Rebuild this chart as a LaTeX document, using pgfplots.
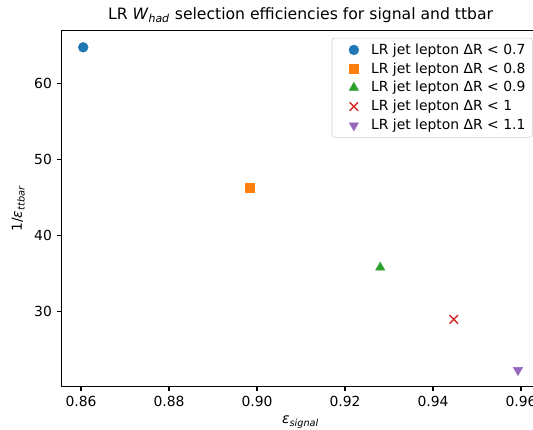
\documentclass[border=0pt]{standalone}
\usepackage{amsmath}
\usepackage{fontspec}
\setmainfont{DejaVu Sans}
\usepackage{pgfplots}
\pgfplotsset{compat=1.18}
\usetikzlibrary{calc}

\definecolor{c0}{HTML}{1F77B4}
\definecolor{c1}{HTML}{FF7F0E}
\definecolor{c2}{HTML}{2CA02C}
\definecolor{c3}{HTML}{D62728}
\definecolor{c4}{HTML}{9467BD}

\pgfplotsset{
  mplmark/.style={only marks,
    legend image code/.code={
      \path (0cm,0cm) (0.78cm,0cm);
      \draw[mark repeat=2,mark phase=2,##1] plot coordinates {(0cm,0cm) (0.43cm,0cm) (0.86cm,0cm)};
    }},
}

\begin{document}
\begin{tikzpicture}
\begin{axis}[
  name=ax,
  scale only axis,
  width=344pt, height=255.9pt,
  xmin=0.8556, xmax=0.9642,
  ymin=20.17, ymax=66.93,
  xtick={0.86,0.88,0.90,0.92,0.94,0.96},
  ytick={30,40,50,60},
  scaled ticks=false,
  tick pos=left,
  tick align=outside,
  major tick length=3.5pt,
  axis line style={line width=0.8pt},
  tick style={line width=0.8pt, black},
  x tick label style={/pgf/number format/.cd, fixed, fixed zerofill, precision=2},
  /pgf/number format/assume math mode=true,
  ticklabel style={font=\fontsize{10}{12}\selectfont},
  title={LR \textit{W}\textsubscript{\textit{had}} selection efficiencies for signal and ttbar},
  title style={font=\fontsize{11.25}{13}\selectfont, yshift=-3.5pt},
  xlabel={\textit{ε}\textsubscript{\textit{signal}}},
  ylabel={1/\textit{ε}\textsubscript{\textit{ttbar}}},
  label style={font=\fontsize{10}{12}\selectfont},
  legend cell align=left,
  legend style={at={(1,1)}, anchor=north east, xshift=-5pt, yshift=-5pt,
    draw=black!20, rounded corners=2pt, font=\fontsize{10}{12}\selectfont,
    row sep=0.5pt},
]
\addplot[mplmark, mark=*, mark size=3.5pt, color=c0] coordinates {(0.8605, 64.76)};
\addlegendentry{LR jet lepton ΔR < 0.7}
\addplot[mplmark, mark=square*, mark size=3.3pt, color=c1] coordinates {(0.8983, 46.29)};
\addlegendentry{LR jet lepton ΔR < 0.8}
\addplot[mplmark, mark=triangle*, mark size=3.8pt, color=c2] coordinates {(0.9280, 35.80)};
\addlegendentry{LR jet lepton ΔR < 0.9}
\addplot[mplmark, mark=x, mark size=4.3pt, line width=1pt, color=c3] coordinates {(0.9447, 28.97)};
\addlegendentry{LR jet lepton ΔR < 1}
\addplot[mplmark, mark=triangle*, mark size=3.8pt, mark options={rotate=180}, color=c4] coordinates {(0.9593, 22.30)};
\addlegendentry{LR jet lepton ΔR < 1.1}
\end{axis}
\pgfresetboundingbox
\path[use as bounding box] ($(ax.south west)+(-44.4pt,-30.8pt)$) rectangle ($(ax.north east)+(-4.7pt,22.2pt)$);
\end{tikzpicture}
\end{document}
